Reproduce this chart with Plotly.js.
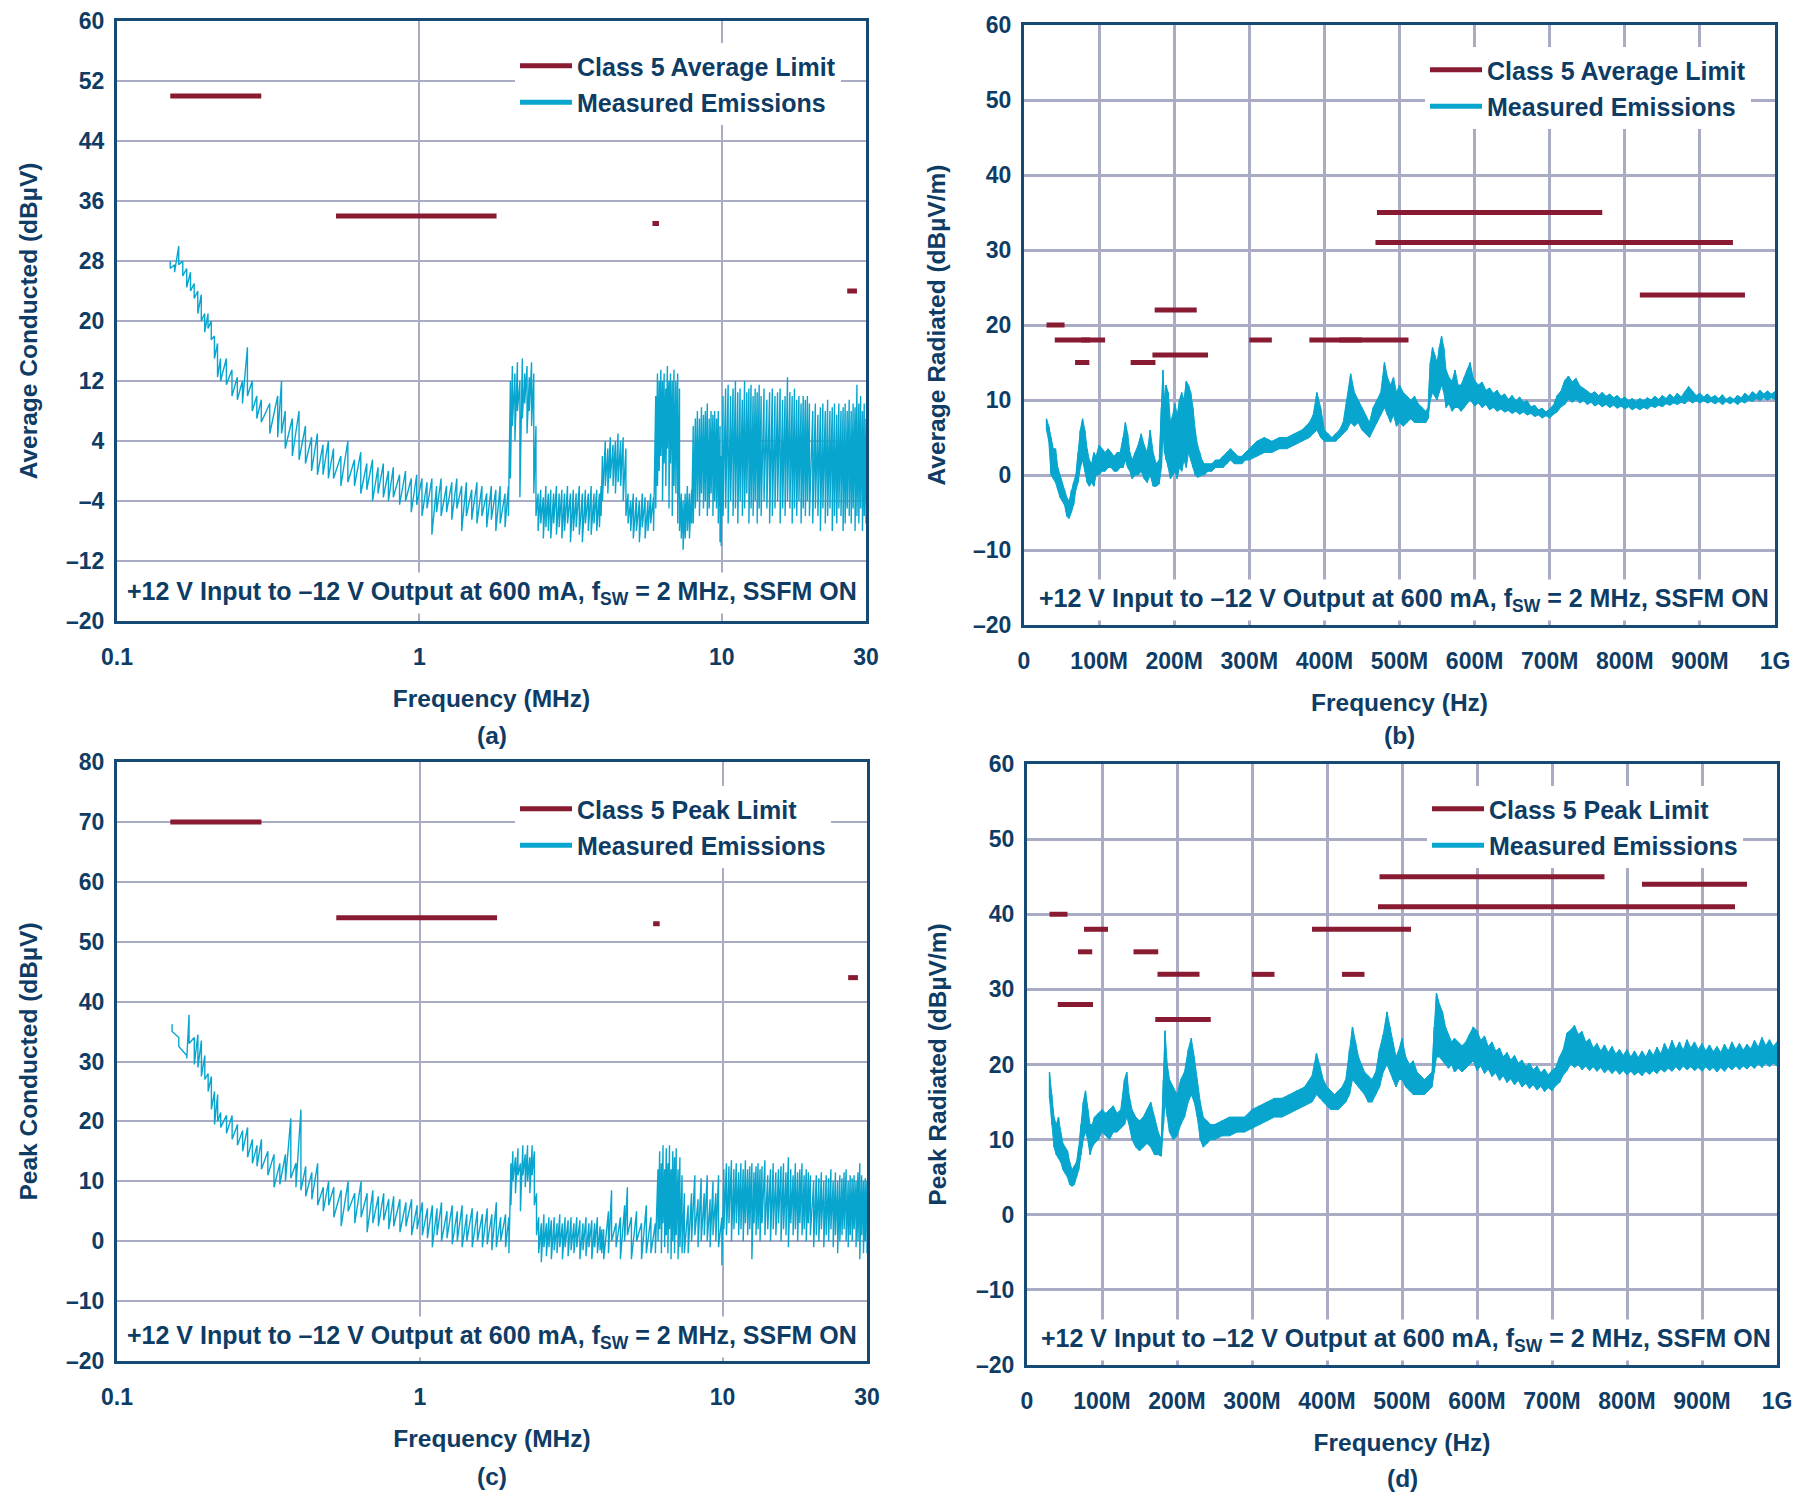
<!DOCTYPE html>
<html><head><meta charset="utf-8">
<script src="https://cdn.plot.ly/plotly-3.0.1.min.js"></script>
<style>html,body{margin:0;padding:0;background:#fff}#chart{width:1810px;height:1504px}</style>
</head><body><div id="chart"></div><script>
// ---------- DATA ----------
// Conducted limit bands (MHz)
const condStart = [0.15, 0.53, 5.9, 26];
const condEnd   = [0.30, 1.80, 6.2, 28];
const condAvgLimit  = [50, 34, 33, 24];
const condPeakLimit = [70, 54, 53, 44];
// Radiated limit bands (MHz)
const radStart = [30, 76, 68, 41, 142, 174, 171, 300, 380, 420, 470, 468, 820];
const radEnd   = [54, 108, 87, 88, 175, 230, 245, 330, 512, 450, 770, 944, 960];
const radAvgLimit  = [20, 18, 15, 18, 15, 22, 16, 18, 18, 18, 35, 31, 24];
const radPeakLimit = [40, 38, 35, 28, 35, 32, 26, 32, 38, 32, 45, 41, 44];

// (a) Average conducted: frequency (MHz), upper and lower readings (dBuV)
const aFreq = [0.150,0.155,0.160,0.165,0.170,0.175,0.180,0.185,0.190,0.195,0.200,0.205,0.210,0.215,0.220,0.230,0.240,0.250,0.260,0.270,0.280,0.290,0.300,0.320,0.340,0.350,0.360,0.380,0.400,0.420,0.440,0.460,0.480,0.500,
 0.52,0.55,0.58,0.61,0.64,0.67,0.70,0.73,0.76,0.79,0.82,0.86,0.90,0.94,0.98,1.02,1.06,1.10,1.14,1.18,1.23,1.28,1.33,1.38,1.43,1.49,1.55,1.61,1.67,1.73,1.79,1.85,1.92,1.97,
 2.00,2.03,2.07,2.11,2.15,2.19,2.23,2.27,2.31,2.35,2.39,2.43,
 2.47,2.52,2.57,2.62,2.67,2.72,2.78,2.84,2.90,2.96,3.02,3.09,3.16,3.23,3.30,3.38,3.46,3.54,3.62,3.70,3.78,3.86,3.94,3.99,
 4.03,4.12,4.20,4.28,4.37,4.45,4.54,4.63,4.72,4.82,
 4.90,5.00,5.10,5.22,5.34,5.46,5.58,5.70,5.82,5.95,
 6.05,6.13,6.21,6.29,6.37,6.45,6.53,6.61,6.69,6.77,6.86,6.95,7.05,7.15,7.25,
 7.35,7.45,7.57,7.70,7.82,7.95,
 8.05,8.18,8.31,8.44,8.57,8.70,8.83,8.96,9.09,9.22,9.35,9.48,9.61,9.74,9.87,9.96,
 10.1,10.3,10.5,10.7,10.9,11.1,11.3,11.5,11.7,11.9,12.1,12.3,12.5,12.7,12.9,13.1,13.3,13.5,13.8,14.1,14.4,14.7,15.0,15.3,15.6,15.9,16.2,16.5,16.8,17.1,17.4,17.7,18.0,18.3,18.6,18.9,19.2,19.5,
 20.0,20.4,20.8,21.2,21.6,22.0,22.4,22.8,23.2,23.6,24.0,24.4,24.8,25.2,25.6,26.0,26.4,26.8,27.2,27.6,28.0,28.4,28.8,29.2,29.6,30.0];
const aHi = [28,27.5,30,28,27,26.5,25,24,23.5,21,21,20,18,17,15,15,13.5,12.5,12,16.5,12,10,9.5,9,10,12,8,7,8,6,4.5,5,3.5,4,
 3,2,4,1.5,2.5,1,1.5,0.5,1,0,0.5,-0.5,0,-1,-0.5,-1,-1.5,-1,-2,-1,-2,-1.5,-1,-2,-1.5,-2.5,-1.5,-2,-3,-2,-2.5,-2,-3,-2,
 12,14,13,14.5,12,15,13,14,12.5,14.5,13,6,
 -3,-2.5,-3.5,-2,-3,-2.5,-3,-2,-3,-2.5,-3,-2,-3,-2.5,-3,-2,-3,-2.5,-3,-2,-3,-2.5,-3,-2,
 2,4,3,4.5,3.5,4,5,4,4.5,3,
 -3,-4,-3,-3.5,-4,-3,-3.5,-4,-3,-3.5,
 10,13,12,13.5,12,13,11,14,12,13,12,13.5,12,13,11,
 -3,-4,-3,-2,-3,-2.5,
 6,7,8,7,8.5,7.5,8,9,7,8,7.5,8,7,8,6,2,
 10,11,11.5,10,11,12,10.5,11,9.5,12,10.5,11,11.5,10,11,10.5,11.5,10,11,9.5,10.5,11,10,10.5,11,9.5,10,12.5,10.5,10,11,9.5,10,9,10,9.5,10,9,
 8,9,7.5,8.5,9,8,9.5,8,8.5,9,7.5,9,8,8.5,9,8,9.5,8,9,8.5,11.5,9,10,8,9,7];
const aLo = [27,26.5,27.5,26,24.5,24,23,21,20,18.5,19,17.5,15,12.5,12,11.5,10,9.5,9,10,8,7,6.5,5,4.5,5,3,2,1.5,1,0,-0.5,-0.5,-1,
 -1,-2,-1.5,-2,-3,-2.5,-4,-3,-3.5,-4,-3.5,-4.5,-4,-5.5,-4.5,-6,-5,-8.5,-5.5,-6,-5.5,-6.5,-5,-8,-6,-6.5,-7,-6,-7.5,-6.5,-8,-7,-7.5,-6,
 -1,6,4,8,-3.5,7,9,5,8,6,-3,-6,
 -8,-7,-9,-7.5,-8,-9,-7,-8.5,-7.5,-9,-8,-7,-9.5,-8,-7.5,-8.5,-9.5,-7,-8,-8.5,-7,-8,-7.5,-6,
 -4,-2,-3,-1,-2,-3,-1.5,-2,-4,-6,
 -7,-8,-9,-8,-9.5,-7.5,-9,-8,-7,-8,
 -5,-2,0,2,-4,1,-2,3,-5,1,-6,-2,-3,-7,-8,
 -9,-10.5,-9,-8,-9,-7,
 -7,-5,-4,-6,-3,-5,-4,-6,-5,-3,-6,-4,-5,-7,-9.5,-10,
 -6,-5,-7,-4,-6,-5,-7,-4,-6,-5,-3,-7,-5,-6,-4,-7,-5,-6,-4,-5,-7,-6,-5,-4,-7,-5,-6,-4,-5,-7,-5,-6,-4,-7,-5,-6,-4,-6,
 -7,-5,-6,-8,-5,-7,-6,-5,-8,-6,-7,-5,-6,-8,-7,-5,-6,-7,-5,-8,-6,-7,-5,-8,-6,-7];

// (c) Peak conducted
const cFreq = [0.152,0.160,0.170,0.173,0.180,0.185,0.190,0.195,0.200,0.205,0.210,0.215,0.220,0.230,0.240,0.250,0.260,0.270,0.280,0.290,0.300,0.315,0.330,0.345,0.360,0.375,0.390,0.405,0.420,0.440,0.460,0.480,0.500,
 0.52,0.55,0.58,0.61,0.64,0.67,0.70,0.73,0.76,0.79,0.82,0.86,0.90,0.94,0.98,1.02,1.06,1.10,1.14,1.18,1.23,1.28,1.33,1.38,1.43,1.49,1.55,1.61,1.67,1.73,1.79,1.85,1.92,1.97,
 2.00,2.03,2.07,2.11,2.15,2.19,2.23,2.27,2.31,2.35,2.39,2.43,
 2.47,2.52,2.57,2.62,2.67,2.72,2.78,2.84,2.90,2.96,3.02,3.09,3.16,3.23,3.30,3.38,3.46,3.54,3.62,3.70,3.78,3.86,3.94,3.99,
 4.05,4.20,4.30,4.45,4.60,4.75,4.85,5.00,5.20,5.40,5.60,5.80,6.00,
 6.12,6.20,6.28,6.36,6.44,6.52,6.60,6.68,6.76,6.85,6.94,7.03,7.13,7.23,7.35,7.48,
 7.70,7.90,8.10,8.30,8.50,8.70,8.90,9.10,9.30,9.50,9.70,9.95,
 10.1,10.3,10.5,10.7,10.9,11.1,11.3,11.5,11.7,11.9,12.1,12.3,12.5,12.7,12.9,13.1,13.3,13.5,13.8,14.1,14.4,14.7,15.0,15.3,15.6,15.9,16.2,16.5,16.8,17.1,17.4,17.7,18.0,18.3,18.6,18.9,19.2,19.5,
 20.0,20.4,20.8,21.2,21.6,22.0,22.4,22.8,23.2,23.6,24.0,24.4,24.8,25.2,25.6,26.0,26.4,26.8,27.2,27.6,28.0,28.4,28.8,29.2,29.6,30.0];
const cHi = [36.2,34,31,37.8,34,34.5,33.5,31,28,27.5,25,24.5,21.5,21,21,19.5,18.5,19,17,16,17,15,14.5,13,14.5,20.5,13,22,12.5,11.5,13,9,10,
 9,8.5,10,8,10,8,8.5,7.5,8,7,7.5,7,6.5,7,6,6.5,5.5,6,5.5,6.5,5,6,5,6,4.5,5.5,5,4.5,5.5,4.5,6.5,4,4.5,4,
 13,15,14,15.5,13,16,14.5,16,14,16,15,8,
 4,3,4.5,3,4,3.5,4,3,4.5,3,4,3.5,4,3,4,3.5,3,4,3,3.5,3,4,2.5,2,
 2,5,8.5,3,4,6,9,4,5,3,6,4,3,
 12,15,13,16,12,15.5,13,16,12,15,14,15.5,12,14,11,8,
 6,8,11,7,10.5,8,11,7,10,8,11,4,
 12,13,12.5,13.5,12,13,11.5,13,12,13.5,12,12.5,13,11.5,12.5,13,12,12.5,13.5,11,12,13,11.5,12,12.5,13,11.5,14,12,11,13,11.5,12,13,11,12,11.5,11,
 10,11,10.5,11.5,10,11,10.5,12,10,11.5,10,11,10.5,11.5,12,10,11,10.5,11,10,11.5,13,11,10,10.5,10];
const cLo = [35,32.5,30.5,33,29.5,29,27.5,27,25,22,19.5,20,19,18,17,16,15,14,13,12.5,12,11,9,9.5,10,10.5,9,8.5,7.5,7,6,5,6,
 4,2.5,5,3,4,1.5,3,2.5,3.5,2,2.5,1.5,2.5,1,2,1,0.5,-1,1,0,0.5,-0.5,0,-1,0,-1,0,-1,-0.5,-1.5,-1,0,-1,-2,
 6,10,8,11,5,11,9,10,8,11,6,1,
 -2,-3.5,-1,-2.5,-1,-3,-1.5,-2,-1,-3,-1,-2.5,-1.5,-2,-1,-3,-1.5,-2.5,-1,-3,-1,-2,-1.5,-2,
 -3,-2,0,-1,-3,0,1,-3,0,-3,-2,-2,-2,
 0,2,-2,3,-1,1,-2,2,-3,0,-2,1,-3,-1,-2,-2,
 -2,0,1,-1,0,1,0,-1,1,0,-1,-4,
 2,1,3,0,2,3,1,2,0,3,1,2,-3,3,1,2,0,3,1,2,0,2,1,3,0,2,1,-1,3,1,2,0,3,1,2,0,3,1,
 -1,1,0,2,-1,1,0,2,-1,1,-2,0,1,2,0,-1,1,0,2,-1,0,-3,1,-2,0,-2];

// (b) Average radiated: frequency (MHz), upper and lower readings (dBuV/m)
const bFreq = [30,33,36,39,42,45,48,51,54,57,60,63,66,69,72,75,78,81,84,87,90,93,96,100,104,108,112,116,120,124,128,132,135,138,141,144,148,152,156,160,164,168,172,176,180,183,185,187,189,192,195,198,201,204,207,210,213,216,219,222,225,228,231,234,237,240,245,250,255,260,265,270,275,280,285,290,295,300,310,320,330,340,350,360,370,380,385,390,395,400,405,410,415,420,425,430,435,440,445,450,455,460,465,470,475,480,484,488,492,496,500,505,510,515,520,525,530,535,538,541,544,547,550,553,556,559,562,566,570,574,578,582,586,590,594,598,
 600,605,610,615,620,625,630,635,640,645,650,655,660,665,670,675,680,685,690,695,700,705,710,715,720,725,730,735,740,745,750,755,760,765,770,775,780,785,790,795,800,805,810,815,820,825,830,835,840,845,850,855,860,865,870,875,880,885,890,895,900,905,910,915,920,925,930,935,940,945,950,955,960,965,970,975,980,985,990,995,1000];
const bHi = [7.5,6.5,5,3.5,3.5,1,0,-1,-2,-3,-3.5,-2,-1,0,3,6,7.5,6,3.5,2,1.5,3,2.5,4,3.5,3,3.5,3,2.5,3,3,5,7,5.5,3,2,3,4,5.5,4,3,6,3,1.5,2,9,14,10,12,11,7,8,9.5,8,10,11,10,12.5,12,11,9,6,4,3,2,1.5,1.5,1.5,2,2,2.5,3,3.5,3,2.5,2.5,3,3.5,4.5,5,4.5,5,5,5.5,6,7,8,11,9,6,5.5,5,5.5,6,7,10,13.5,11,10,9,8,7,9,10,11,15,13,12,13,11,12,11,10.5,10,10.5,9.5,9,8.5,9,15,17,16,15,17,18.5,17,14,13,12.5,14,12,12,13,14,15,13,
 12.6,12,12.4,11.3,11.6,10.9,11.3,10.5,10.8,10.1,10.6,9.9,10.4,9.7,9.9,9.1,9.3,8.7,8.9,8.4,8.8,9.3,10.6,11.2,12.6,13.2,12.4,12.9,11.9,11.6,11.2,10.8,11.1,10.6,11,10.5,10.8,10.3,10.6,10.1,10.4,9.9,10.2,9.8,10.2,9.9,10.3,10,10.5,10.1,10.6,10.2,10.8,10.3,10.9,10.4,11.1,11.8,11.2,10.6,10.9,10.4,10.8,10.3,10.6,10.2,10.7,10.1,10.4,10.1,10.6,10.3,10.9,10.5,11.1,10.7,11.3,10.8,11.2,10.8,11.1];
const bLo = [6,4.5,0,-0.5,-1,-2,-3,-3.5,-4,-5.5,-5.8,-5,-4,-2,-1,1,2,0.5,-1,-1.5,-1,-1.5,0,0,0.5,0.5,1,1,0.5,0.5,1,1,2,1,0.5,-0.5,0,0,0.5,-0.5,-1,0,-1.5,-1.5,-1.2,1,6,3,2,1,-0.5,0,0.5,-0.5,1,0.5,2,1,3,2,1,0,-0.3,-0.2,0,0,0.5,0.5,1,1,1,1.5,2,1.5,1.5,1.5,2,2,2.5,3,3,3.5,3.5,4,4.5,5,5.5,6,5,4.5,4.5,4.5,4.5,5,5.5,6,7,6.5,7,6,5.5,5,6,7,8,9,8,7,8,6.5,7,6.5,7,7.5,7,7,7,7,7.5,10,11,10.5,10,11,12,11,9,9.5,8.5,9,9,8.5,9,9.5,10,9.5,
 9.2,9.6,9,9.4,8.7,9,8.5,8.8,8.4,8.6,8.2,8.5,8.1,8.4,8,8.2,7.8,8,7.6,7.9,7.6,8.1,8.4,9.1,9.4,10.1,9.7,10.1,9.6,9.9,9.4,9.7,9.2,9.5,9.1,9.4,9,9.3,8.9,9.2,8.8,9.1,8.7,9,8.7,9,8.8,9.2,9,9.3,9.1,9.5,9.3,9.6,9.4,9.7,9.5,10,9.6,9.9,9.6,9.9,9.6,9.8,9.5,9.8,9.4,9.8,9.5,9.8,9.4,9.8,9.6,10,9.8,10.2,9.9,10.3,10,10.3,10.1];

// (d) Peak radiated
const dFreq = [30,33,36,39,42,45,48,51,54,57,60,63,66,69,72,75,78,81,84,87,90,95,100,105,110,115,120,125,130,133,136,140,145,150,155,160,165,170,175,179,182,184,187,190,195,200,205,210,215,219,223,227,231,235,240,245,250,260,270,280,290,300,310,320,330,340,350,360,370,380,386,390,395,400,405,410,415,420,425,430,434,438,442,446,450,455,460,465,470,475,480,484,488,492,496,500,505,510,515,520,525,530,535,540,543,546,550,554,558,562,566,570,575,580,585,590,595,
 600,605,610,615,620,625,630,635,640,645,650,655,660,665,670,675,680,685,690,695,700,705,710,715,720,725,730,735,740,745,750,755,760,765,770,775,780,785,790,795,800,805,810,815,820,825,830,835,840,845,850,855,860,865,870,875,880,885,890,895,900,905,910,915,920,925,930,935,940,945,950,955,960,965,970,975,980,985,990,995,1000];
const dHi = [19,16,13,12,13,11,9.5,9,8.5,7,6,6.5,7,9,12,15,16.5,14,12,12,13,13.5,14,13.5,14,14.5,13.5,14,18,19,16,14,13,12.5,13,14,15,13,11,10,18,24.5,20,18,17,16,18,19,22,23.5,21,18,15,13,12.5,12,12,12.5,13,13,13,14,14.5,15,15.5,15.5,16,16.5,17,18.5,21.5,20,18,17,16.5,16,16.5,17,18,22,25,23,21,20,19,18.5,18,19,22,24,27,25,23,21,22,23.5,21,20,20.5,19,18.5,18,18.5,19,25,29.5,28,27,25,24,23,23.5,23,22.5,23,24,25,
 24.5,23.2,23.8,22.4,23,21.8,22.2,21,21.6,20.6,21.2,20.2,20.6,19.7,20.2,19.3,19.8,18.9,19.4,18.6,19.2,19.6,21,22,24.2,24.6,25.2,24,24.4,23,23.4,22.2,22.8,21.8,22.6,21.6,22.4,21.4,22,21.2,22,21,21.8,20.9,21.8,21,22,21.2,22.3,21.4,22.8,21.8,23.2,22,23,21.9,23.3,22.2,23,22,22.8,21.8,22.6,21.7,22.4,21.6,22.7,21.8,23,22,22.8,21.9,22.7,22.1,23.2,22.3,23.6,22.5,23.3,22.4,23];
const dLo = [15.5,12,9,8,7.5,7,6,5.5,5,4,3.8,4,5,6,8,10,11,10,8,9,9.5,10,11,10.5,10,11,11,11.5,12,13,12,10,9,8.5,9,9.5,9,8,8,7.8,12,15,13,11,10,10.5,12,13,15,16,15,13,10,9,9.5,10,10,10.5,10.5,11,11,11.5,12,12.5,13,13,13.5,14,14.5,15,16,15.5,15,14.5,14,14,14,14.5,15,16,18,17.5,17,16.5,16,15,15,16,17,19,20,19,18,17,18,18,17,16.5,16,16,16,16,16.5,17,19,21,21,20.5,20,19.5,20,19,19.5,19,19.5,20,20.5,
 19.2,19.8,18.8,19.4,18.4,18.9,17.9,18.5,17.6,18.1,17.3,17.9,17,17.5,16.8,17.3,16.6,17.1,16.4,16.9,16.5,17.2,17.6,18.6,19.2,20.1,19.6,20,19.3,19.8,19.2,19.7,19.1,19.6,18.9,19.4,18.8,19.3,18.7,19.2,18.6,19.1,18.6,19,18.5,19.1,18.7,19.2,18.8,19.4,19,19.5,19.1,19.7,19.2,19.8,19.3,19.7,19.2,19.6,19.1,19.7,19.2,19.6,19,19.6,19.1,19.7,19.3,19.8,19.3,19.8,19.4,19.9,19.5,20.1,19.6,20.2,19.7,20.2,19.8];

const condTickVals = [0.1, 1, 10, 30];
const condTickText = ['0.1', '1', '10', '30'];
const radTickVals = [0,100,200,300,400,500,600,700,800,900,1000];
const radTickText = ['0','100M','200M','300M','400M','500M','600M','700M','800M','900M','1G'];
const aYTicks = [-20,-12,-4,4,12,20,28,36,44,52,60];
const cYTicks = [-20,-10,0,10,20,30,40,50,60,70,80];
const radYTicks = [-20,-10,0,10,20,30,40,50,60];

// ---------- STYLE ----------
const NAVY = '#0e3c64', FRAME = '#164a74', GRID = '#a9acc4';
const CYAN = '#08a6cf', RED = '#881a31';
const FONT = 'Liberation Sans, Arial, Helvetica, sans-serif';
const W = 1810, H = 1504;
const TICK = 23, TITLE = 24.5, LEG = 25, NOTE = 25;

function zig(f, hi, lo) {
  const x = [], y = [];
  for (let i = 0; i < f.length; i++) { x.push(f[i], f[i]); y.push(hi[i], lo[i]); }
  return {x, y};
}
function band(f, hi, lo) {
  return {x: f.concat(f.slice().reverse()), y: hi.concat(lo.slice().reverse())};
}
function segs(s, e, v) {
  const x = [], y = [];
  for (let i = 0; i < s.length; i++) { x.push(s[i], e[i], null); y.push(v[i], v[i], null); }
  return {x, y};
}
const lab = t => t.map(v => String(v).replace('-', '\u2013'));

const panels = [
  {ax:'', leg:'legend', box:[117,866,21,621], log:true, fill:false, f:aFreq, hi:aHi, lo:aLo, ls:condStart, le:condEnd, lv:condAvgLimit,
   limName:'Class 5 Average Limit', yt:aYTicks, yr:[-20,60], ytitle:'Average Conducted (dBµV)', xtitle:'Frequency (MHz)', tag:'(a)',
   legPos:[515,43], ann:[492,593], tagy:736, ystand:22},
  {ax:'2', leg:'legend2', box:[1024,1775,25,625], log:false, fill:true, f:bFreq, hi:bHi, lo:bLo, ls:radStart, le:radEnd, lv:radAvgLimit,
   limName:'Class 5 Average Limit', yt:radYTicks, yr:[-20,60], ytitle:'Average Radiated (dBµV/m)', xtitle:'Frequency (Hz)', tag:'(b)',
   legPos:[1425,47], ann:[1404,600], tagy:736, ystand:21},
  {ax:'3', leg:'legend3', box:[117,867,762,1361], log:true, fill:false, f:cFreq, hi:cHi, lo:cLo, ls:condStart, le:condEnd, lv:condPeakLimit,
   limName:'Class 5 Peak Limit', yt:cYTicks, yr:[-20,80], ytitle:'Peak Conducted (dBµV)', xtitle:'Frequency (MHz)', tag:'(c)',
   legPos:[515,786], ann:[492,1337], tagy:1476, ystand:22},
  {ax:'4', leg:'legend4', box:[1027,1777,764,1365], log:false, fill:true, f:dFreq, hi:dHi, lo:dLo, ls:radStart, le:radEnd, lv:radPeakLimit,
   limName:'Class 5 Peak Limit', yt:radYTicks, yr:[-20,60], ytitle:'Peak Radiated (dBµV/m)', xtitle:'Frequency (Hz)', tag:'(d)',
   legPos:[1427,786], ann:[1406,1340], tagy:1478, ystand:23}
];

const data = [];
const layout = {
  width: W, height: H, margin:{l:0,r:0,t:0,b:0}, paper_bgcolor:'#fff', plot_bgcolor:'#fff',
  font:{family:FONT, color:NAVY, size:20, weight:'bold'}, annotations:[], showlegend:true
};
panels.forEach((p, i) => {
  const xa = 'x'+p.ax, ya = 'y'+p.ax;
  const z = zig(p.f, p.hi, p.lo);
  const s = segs(p.ls, p.le, p.lv);
  if (p.fill) {
    const bd = band(p.f, p.hi, p.lo);
    data.push({x:bd.x, y:bd.y, xaxis:xa, yaxis:ya, mode:'lines', fill:'toself', fillcolor:CYAN, showlegend:false,
               line:{color:CYAN, width:1}, hoverinfo:'skip'});
  }
  data.push({x:z.x, y:z.y, xaxis:xa, yaxis:ya, mode:'lines', name:'Measured Emissions', showlegend:false, legendgroup:'meas'+i,
             line:{color:CYAN, width:1.4}, hoverinfo:'skip'});
  data.push({x:s.x, y:s.y, xaxis:xa, yaxis:ya, mode:'lines', name:p.limName, legend:p.leg, legendgroup:'lim'+i,
             line:{color:RED, width:5}, connectgaps:false, hoverinfo:'skip'});
  data.push({x:[null], y:[null], xaxis:xa, yaxis:ya, mode:'lines', name:'Measured Emissions', legend:p.leg, legendgroup:'meas'+i,
             line:{color:CYAN, width:5}, hoverinfo:'skip'});
  const [l, r, t, b] = p.box;
  const xkey = 'xaxis'+p.ax, ykey = 'yaxis'+p.ax;
  layout[xkey] = {
    domain:[l/W, r/W], anchor:ya, type: p.log ? 'log' : 'linear',
    range: p.log ? [Math.log10(0.1), Math.log10(30)] : [0, 1000],
    tickvals: p.log ? condTickVals : radTickVals, ticktext: p.log ? condTickText : radTickText,
    showgrid:true, gridcolor:GRID, gridwidth: p.log ? 2 : 3, zeroline:false,
    showline:true, mirror:true, linecolor:FRAME, linewidth:3, ticks:'', ticklabelstandoff:13,
    tickfont:{size:TICK, color:NAVY, family:FONT, weight:'bold'},
    title:{text:p.xtitle, standoff:22, font:{size:TITLE, color:NAVY, family:FONT, weight:'bold'}}
  };
  layout[ykey] = {
    domain:[1-b/H, 1-t/H], anchor:xa, range:p.yr, tickvals:p.yt, ticktext:lab(p.yt),
    showgrid:true, gridcolor:GRID, gridwidth: p.log ? 2 : 3, zeroline:false,
    showline:true, mirror:true, linecolor:FRAME, linewidth:3, ticks:'', ticklabelstandoff:5,
    tickfont:{size:TICK, color:NAVY, family:FONT, weight:'bold'},
    title:{text:p.ytitle, standoff:p.ystand, font:{size:TITLE, color:NAVY, family:FONT, weight:'bold'}}
  };
  layout[p.leg] = {
    x:p.legPos[0]/W, y:1-p.legPos[1]/H, xanchor:'left', yanchor:'top', xref:'paper', yref:'paper',
    bgcolor:'#ffffff', borderwidth:0, font:{size:LEG, color:NAVY, family:FONT, weight:'bold'},
    traceorder:'grouped', tracegroupgap:1, itemwidth:52
  };
  layout.annotations.push(
    {xref:'paper', yref:'paper', x:p.ann[0]/W, y:1-p.ann[1]/H, xanchor:'center', yanchor:'middle',
     text:'+12 V Input to \u201312 V Output at 600 mA, f<sub>SW</sub> = 2 MHz, SSFM ON', showarrow:false,
     bgcolor:'#ffffff', borderpad:4, font:{size:NOTE, color:NAVY, family:FONT, weight:'bold'}},
    {xref:'paper', yref:'paper', x:((l+r)/2)/W, y:1-p.tagy/H, xanchor:'center', yanchor:'middle',
     text:p.tag, showarrow:false, font:{size:TITLE, color:NAVY, family:FONT, weight:'bold'}}
  );
});
Plotly.newPlot('chart', data, layout, {displayModeBar:false, staticPlot:true});
</script></body></html>
